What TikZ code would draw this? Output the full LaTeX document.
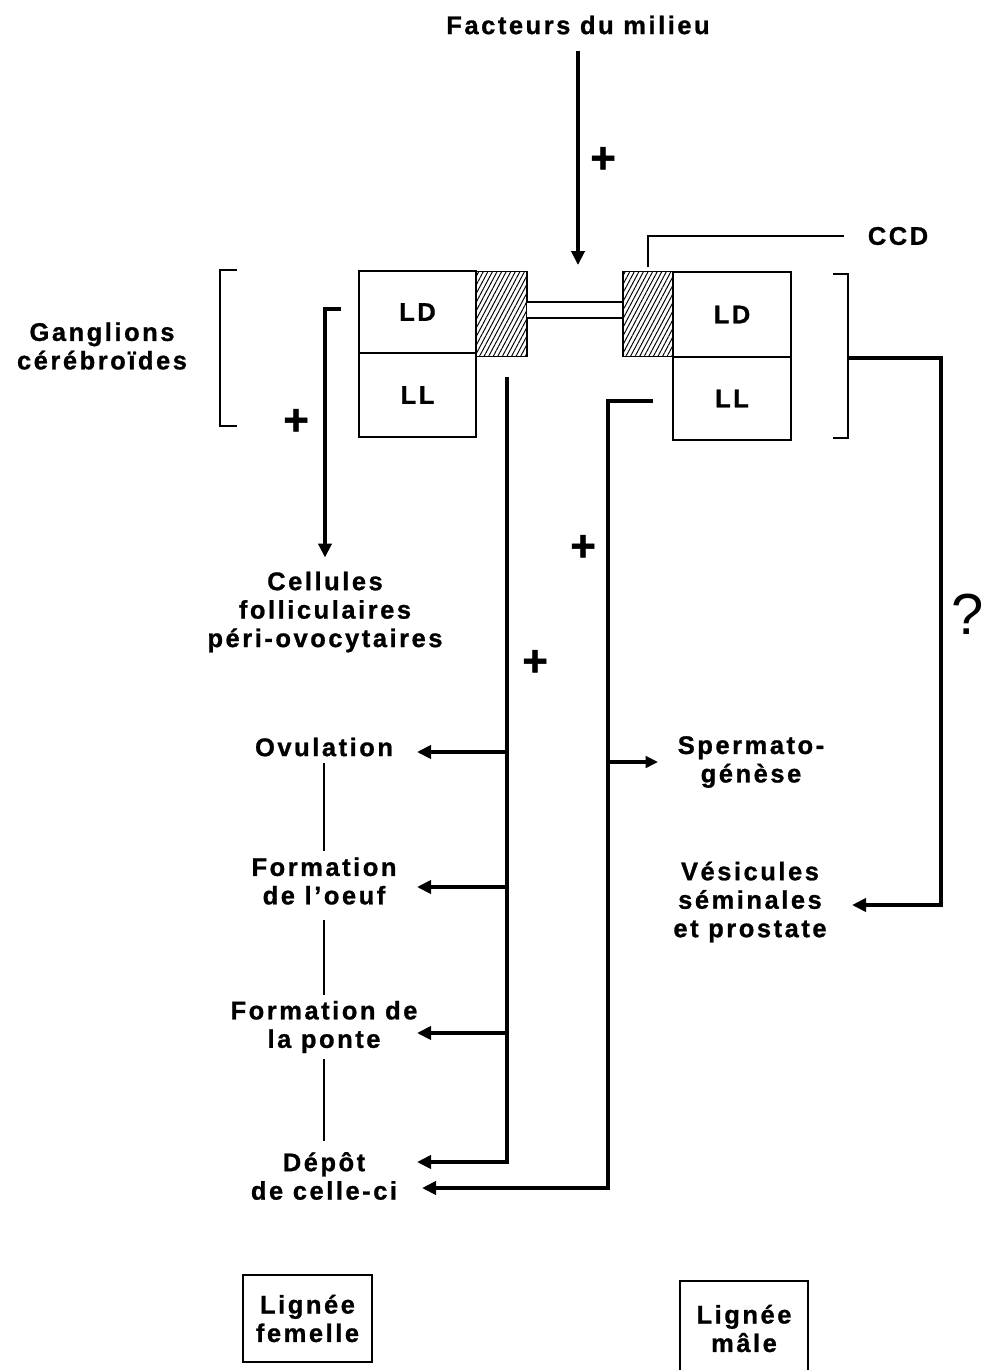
\documentclass[tikz,border=0pt]{standalone}
\usepackage{fontspec}
\setmainfont{Liberation Sans}[LetterSpace=10, BoldFeatures={FakeBold=1}]
\newfontfamily\simple{Liberation Sans}
\usetikzlibrary{arrows.meta,patterns.meta}

\begin{document}
\begin{tikzpicture}[
        x=0.02cm, y=-0.02cm,
        >={Triangle[length=8pt,width=7.5pt]},
        texte/.style={align=center, font=\fontsize{14.5}{16.2}\selectfont\bfseries},
        signe/.style={font=\fontsize{25}{25}\selectfont\bfseries},
        lobe/.style={draw, line width=0.9pt, inner sep=0pt, font=\fontsize{14.5}{14.5}\selectfont\bfseries},
        hachure/.style={draw, line width=0.9pt, inner sep=0pt, pattern={Lines[angle=62,distance=2.3pt,line width=0.55pt]}},
        gros/.style={line width=2.3pt},
        fleche/.style={gros, ->},
        fin/.style={line width=0.9pt},
        moyen/.style={line width=1.3pt},
        cadre/.style={texte, draw, line width=0.9pt, inner sep=0pt}
    ]
    \useasboundingbox (0,0) rectangle (982,1370);

    \node[texte] (milieu) at (578,25) {Facteurs du milieu};
    \node[texte] (ccd) at (898,236) {CCD};
    \node[texte] (ganglions) at (102,346) {Ganglions\\cérébroïdes};

    \node[lobe, minimum width=2.34cm, minimum height=1.64cm] (ldg) at (417.5,312) {LD};
    \node[lobe, minimum width=2.34cm, minimum height=1.68cm] (llg) at (417.5,395) {LL};
    \node[hachure, minimum width=1.02cm, minimum height=1.7cm] (hachg) at (501.5,314) {};
    \node[hachure, minimum width=1.0cm, minimum height=1.7cm] (hachd) at (648,314) {};
    \node[lobe, minimum width=2.36cm, minimum height=1.7cm] (ldd) at (732,314.5) {LD};
    \node[lobe, minimum width=2.36cm, minimum height=1.66cm] (lld) at (732,398.5) {LL};
    \draw[fin, double, double distance=8.2pt] ([yshift=0.08cm]hachg.east) -- ([yshift=0.08cm]hachd.west);

    \draw[moyen] (237,270) -| (220,426) -- (237,426);
    \draw[moyen] (833,274) -| (848,438) -- (833,438);
    \draw[moyen] ([yshift=2pt]hachd.north) |- ([xshift=-10pt]ccd.west);
    \draw[fleche, shorten <=5.7pt, shorten >=3.4pt] (milieu.south) -- (milieu.south |- hachg.north);

    \node[texte] (cellules) at (325,612) {Cellules\\folliculaires\\péri-ovocytaires};
    \node[texte] (ovul) at (324,747) {Ovulation};
    \node[texte] (oeuf) at (324,881) {Formation\\de l'oeuf};
    \node[texte] (ponte) at (324,1027) {Formation de\\la ponte};
    \node[texte] (depot) at (324,1176) {Dépôt\\de celle-ci};
    \node[texte] (sperme) at (751,762) {Spermato-\\génèse};
    \node[texte] (vesicules) at (750,902) {Vésicules\\séminales\\et prostate};
    \node[font=\simple\fontsize{33}{33}\selectfont] (doute) at (968,614) {?};

    \node[signe] (plus1) at (603,160) {+};
    \node[signe] (plus2) at (296,422) {+};
    \node[signe] (plus3) at (535,663) {+};
    \node[signe] (plus4) at (583,548) {+};

    \draw[fin] (ovul) -- (oeuf);
    \draw[fin, shorten <=5pt] (oeuf) -- (ponte);
    \draw[fin, shorten >=3pt] (ponte) -- (depot);

    \coordinate (depart) at (341,309);
    \draw[fleche, shorten >=4.5pt] (depart) -| (cellules.north);

    \coordinate (gauche) at (507,377);
    \coordinate (pointe) at (417,1162);
    \draw[fleche] (gauche) |- (pointe);
    \foreach \y in {752,887,1033}
        \draw[fleche] (gauche |- 0,\y) -- (pointe |- 0,\y);

    \coordinate (droite) at (653,401);
    \coordinate (pointe2) at (422,1188);
    \draw[fleche] (droite) -- (608,401) -- (608,1188) -- (pointe2);
    \draw[line width=1.8pt, -{Triangle[length=7pt,width=6.5pt]}] (608,762) -- (658,762);

    \draw[fleche] (848,358) -| (941,905) -- (852,905);

    \node[cadre, minimum width=2.58cm, minimum height=1.74cm] (femelle) at (307.5,1318.5) {Lignée\\femelle};
    \node[cadre, minimum width=2.56cm, minimum height=1.9cm] (male) at (744,1328.5) {Lignée\\mâle};
\end{tikzpicture}
\end{document}
